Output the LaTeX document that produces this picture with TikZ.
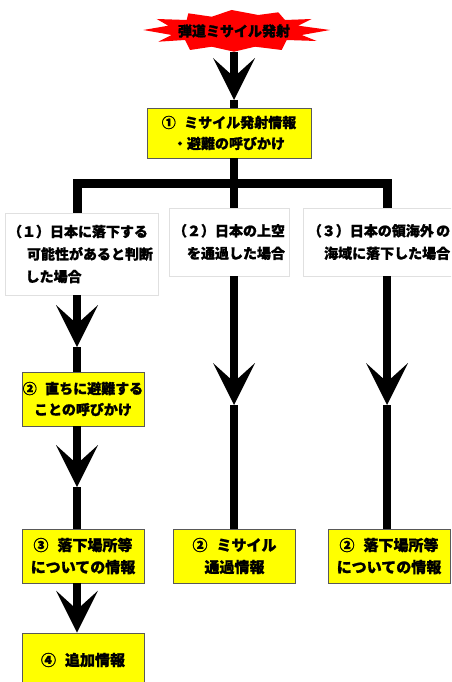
\documentclass[tikz,border=0pt]{standalone}
\usepackage{fontspec}
\setmainfont{Noto Sans CJK JP}[BoldFeatures={FakeBold=1.2}]
\usetikzlibrary{arrows.meta}
\definecolor{boxyellow}{rgb}{1,1,0}
\definecolor{burstred}{rgb}{1,0,0}
\definecolor{edgegray}{rgb}{0.35,0.35,0.35}
\definecolor{palegray}{rgb}{0.88,0.88,0.88}
\newcommand\numgap{\hspace{.6em}}

\begin{document}
\begin{tikzpicture}[x=1pt,y=-1pt,
  >={Stealth[length=42pt,width=42pt,inset=19pt,line width=0pt]},
  font=\bfseries\fontsize{14}{22}\selectfont,
  info/.style={draw=edgegray,line width=0.8pt,fill=boxyellow,align=center,
    minimum width=122pt,minimum height=54pt,inner sep=0pt,
    font=\bfseries\fontsize{15}{22}\selectfont},
  case/.style={draw=palegray,line width=0.6pt,fill=white,inner sep=0pt,
    minimum height=68pt,font=\bfseries\fontsize{14}{22.5}\selectfont},
  stem/.style={line width=8pt},
  bar/.style={line width=9pt}]
\useasboundingbox (0,0) rectangle (451,682);
\clip (0,0) rectangle (451,682);
\fill[burstred] (143.3,30) -- (168.3,25.7) -- (156.7,19) -- (186.7,20) -- (188.3,13.3)
  -- (211.7,16.7) -- (231.7,10) -- (258.3,15) -- (278.3,12.3) -- (285,20) -- (311.7,19)
  -- (298.3,25.7) -- (330,30) -- (301.7,35) -- (316.7,41) -- (286.7,40) -- (281.7,50)
  -- (255,46.7) -- (234,51.7) coordinate (burst) -- (211.7,46.7) -- (190,50) -- (185,40)
  -- (158.3,41.7) -- (171.7,35) -- cycle;
\node (launch) at (234,31) {弾道ミサイル発射};
\node[info,minimum width=164pt,minimum height=50pt,font=\bfseries\fontsize{14}{21}\selectfont]
  (info1) at (229,133) {①\numgap ミサイル発射情報\\・避難の呼びかけ};

\coordinate (tip0) at (234,100);
\coordinate (tipA1) at (77,347);
\coordinate (tipA2) at (77,487);
\coordinate (tipB) at (234,405);
\coordinate (tipC) at (387,405);
\coordinate (fork) at (234,183);

\node[case,minimum height=82pt,text width=151pt,inner xsep=1pt,align=left] (case1) at (81.5,254)
  {\hspace{2pt}（１）日本に落下する\\\hspace{1.5em}可能性があると判断\\\hspace{1.4em}した場合};
\node[case,minimum width=120pt,align=right] (case2) at (229,242)
  {（２）日本の上空\\を通過した場合};
\node[case,minimum width=152pt,align=right] (case3) at (379,242)
  {（３）日本の領海外\,の\\海域に落下した場合};

\node[info,font=\bfseries\fontsize{14}{21}\selectfont] (stepA2) at (83,399)
  {②\numgap 直ちに避難する\\ことの呼びかけ};
\node[info] (stepA3) at (83,556) {③\numgap 落下場所等\\についての情報};
\node[info] (stepA4) at (83,660) {④\numgap 追加情報};
\node[info] (stepB) at (234.5,556) {②\numgap ミサイル\\通過情報};
\node[info] (stepC) at (389,556) {②\numgap 落下場所等\\についての情報};

\draw[stem,->] (burst) -- (tip0);
\draw[stem] (tip0) -- (tip0 |- info1.north);
\draw[stem] (info1.south -| tip0) -- (tip0 |- case2.north);
\draw[bar] (case1.north -| tipA1) |- (fork) -| (case3.north -| tipC);

\draw[stem,->] (case1.south -| tipA1) -- (tipA1);
\draw[stem] (tipA1) -- (tipA1 |- stepA2.north);
\draw[stem,->] (stepA2.south -| tipA2) -- (tipA2);
\draw[stem] (tipA2) -- (tipA2 |- stepA3.north);
\draw[stem,->] (stepA3.south -| tipA1) -- (tipA1 |- stepA4.north);

\draw[stem,->] (case2.south -| tipB) -- (tipB);
\draw[stem] (tipB) -- (tipB |- stepB.north);
\draw[stem,->] (case3.south -| tipC) -- (tipC);
\draw[stem] (tipC) -- (tipC |- stepC.north);
\end{tikzpicture}
\end{document}
